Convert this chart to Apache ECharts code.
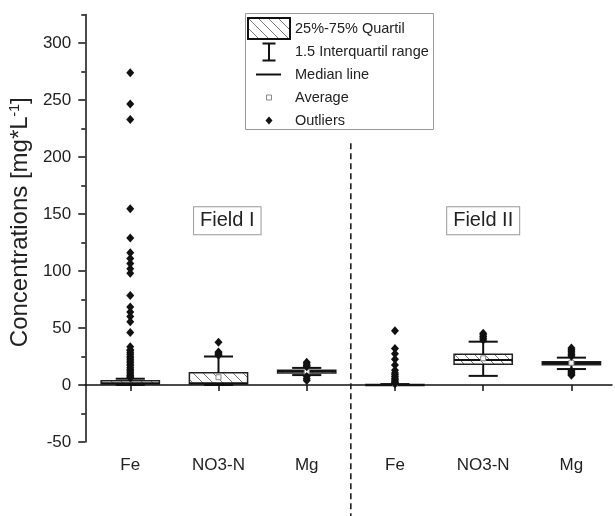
<!DOCTYPE html>
<html><head><meta charset="utf-8">
<script src="https://cdn.jsdelivr.net/npm/echarts@6/dist/echarts.min.js"></script>
<style>html,body{margin:0;padding:0;background:#fff}#c{width:615px;height:516px}</style>
</head><body><div id="c"></div><script>
// ---- data ----
const categories = ['Fe', 'NO3-N', 'Mg', 'Fe', 'NO3-N', 'Mg'];
const positions = [1, 2, 3, 4, 5, 6];
const whiskerLow = [0, 0, 8.7, 0, 8, 14];
const quartile1 = [0.8, 0.8, 10.6, 0, 18.3, 17.8];
const medians = [1.5, 1.5, 12, 0.1, 22, 19.2];
const quartile3 = [3.8, 10.8, 13, 0.4, 27, 20.5];
const whiskerHigh = [5.5, 25, 15, 0.8, 38, 24];
const averages = [9, 6.8, 11.9, 1.5, 23.4, 19.5];
const outliersFe1 = [274, 246.5, 233, 154.5, 129, 116, 111, 106.5, 102, 98, 78.5, 68.5, 64, 60, 55.5, 46,
  33.5, 31, 30, 28.2, 26.9, 25.3, 23.8, 22.6, 21, 19.7, 18.1, 16.9, 15.2, 13.8, 12.5, 11.1, 9.6, 8.4, 7.2, 6.3];
const outliersNO3N1 = [37.5, 29, 28, 27, 26.2];
const outliersMg1 = [20, 18.5, 17, 16, 7.5, 5.5, 4];
const outliersFe2 = [47.5, 32, 27.5, 22.5, 17.5, 13, 10.5, 9, 7.5, 6, 4.5, 3.5, 2.5, 1.8, 1.2];
const outliersNO3N2 = [45.5, 44, 42.5, 41, 39.5];
const outliersMg2 = [32.5, 31, 29.5, 28, 26.5, 25.5, 12.5, 11.5, 10.5, 9.5, 8.5];
const outlierGroups = [outliersFe1, outliersNO3N1, outliersMg1, outliersFe2, outliersNO3N2, outliersMg2];
const yTickLabels = [-50, 0, 50, 100, 150, 200, 250, 300];
const yMinorTicks = [-50, -25, 0, 25, 50, 75, 100, 125, 150, 175, 200, 225, 250, 275, 300, 325];
const fieldNames = ['Field I', 'Field II'];
const fieldX = [2.1, 5.0];
const fieldY = [144, 144];
const divider = [3.5, 212];
const legendNames = ['25%-75% Quartil', '1.5 Interquartil range', 'Median line', 'Average', 'Outliers'];

// ---- styles ----
const FONT = "'Liberation Sans', Arial, sans-serif";
const BOX_HALF = 0.33;
const CAP_HALF = 0.165;
function makeHatch() {
  const c = document.createElement('canvas');
  c.width = 10; c.height = 10;
  const g = c.getContext('2d');
  g.fillStyle = '#fff'; g.fillRect(0, 0, 10, 10);
  g.strokeStyle = '#777'; g.lineWidth = 1;
  g.beginPath();
  g.moveTo(-1, -1); g.lineTo(11, 11);
  g.moveTo(-1, 9); g.lineTo(1, 11);
  g.moveTo(9, -1); g.lineTo(11, 1);
  g.stroke();
  return c;
}
const hatch = { image: makeHatch(), repeat: 'repeat' };

const boxData = positions.map((p, i) => [p, quartile1[i], quartile3[i]]);
const whiskerData = positions.map((p, i) => [p, whiskerLow[i], quartile1[i], quartile3[i], whiskerHigh[i]]);
const medianData = positions.map((p, i) => [p, medians[i]]);
const avgData = positions.map((p, i) => [p, averages[i]]);
const outlierData = [];
outlierGroups.forEach((g, i) => g.forEach(v => outlierData.push([positions[i], v])));
const fieldData = fieldNames.map((n, i) => [fieldX[i], fieldY[i], n]);

const chart = echarts.init(document.getElementById('c'), null, { renderer: 'canvas' });
chart.setOption({
  animation: false,
  textStyle: { fontFamily: FONT },
  grid: { left: 84, right: 3, top: 14.5, bottom: 74 },
  legend: {
    orient: 'vertical', left: 247, top: 17, padding: 0,
    itemWidth: 42, itemHeight: 21, itemGap: 1.5,
    textStyle: { fontSize: 14.5, color: '#222', fontFamily: FONT },
    selectedMode: false,
    data: [
      { name: legendNames[0], icon: 'rect', itemStyle: { color: hatch, borderColor: '#111', borderWidth: 2 } },
      { name: legendNames[1], icon: 'path://M0,0M42,21M14.5,1H27.5V3H22V18H27.5V20H14.5V18H20V3H14.5Z', itemStyle: { color: '#111', borderWidth: 0 } },
      { name: legendNames[2], icon: 'path://M0,0M42,21M8,9.5H33V11.5H8Z', itemStyle: { color: '#111', borderWidth: 0 } },
      { name: legendNames[3], icon: 'path://M0,0M42,21M18.5,8H23.5V13H18.5Z', itemStyle: { color: '#fff', borderColor: '#888', borderWidth: 1 } },
      { name: legendNames[4], icon: 'path://M0,0M42,21M21,6.5L24.5,10.5L21,14.5L17.5,10.5Z', itemStyle: { color: '#111', borderWidth: 0 } }
    ]
  },
  graphic: [{
    type: 'rect', left: 243, top: 11, shape: { width: 188, height: 116 },
    style: { fill: 'none', stroke: '#999', lineWidth: 1 }, silent: true, z: 10
  }],
  xAxis: {
    type: 'value', min: 0.49, max: 6.46,
    axisLine: { show: true, lineStyle: { color: '#111', width: 1.5 } },
    axisTick: { show: true, customValues: positions, length: 6, lineStyle: { color: '#111', width: 1.5 } },
    axisLabel: {
      customValues: positions, margin: 15, fontSize: 17, color: '#222', fontFamily: FONT,
      formatter: v => categories[positions.indexOf(Math.round(v))]
    },
    splitLine: { show: false }
  },
  yAxis: [{
    type: 'value', min: -50, max: 325, interval: 25,
    name: 'Concentrations [mg*L{sup|-1}]', nameLocation: 'middle', nameGap: 46,
    nameTextStyle: {
      fontSize: 24, color: '#222', fontFamily: FONT, padding: [0, 0, 0, 12],
      rich: { sup: { fontSize: 14, verticalAlign: 'top', lineHeight: 14, fontFamily: FONT, color: '#222' } }
    },
    axisLine: { show: true, lineStyle: { color: '#111', width: 1.5 } },
    axisTick: { show: true, customValues: yMinorTicks, length: 4, lineStyle: { color: '#111', width: 1.5 } },
    axisLabel: { customValues: yTickLabels, margin: 14, fontSize: 17, color: '#222', fontFamily: FONT },
    splitLine: { show: false }
  }, {
    type: 'value', min: -50, max: 325, interval: 25, position: 'left',
    axisLine: { show: false },
    axisTick: { show: true, customValues: yTickLabels, length: 7, lineStyle: { color: '#111', width: 1.5 } },
    axisLabel: { show: false },
    splitLine: { show: false }
  }],
  series: [
    {
      name: legendNames[0], type: 'custom', data: boxData, encode: { x: 0, y: [1, 2] }, z: 2,
      renderItem: (params, api) => {
        const x = api.value(0);
        const a = api.coord([x - BOX_HALF, api.value(2)]);
        const b = api.coord([x + BOX_HALF, api.value(1)]);
        return {
          type: 'rect',
          shape: { x: a[0], y: a[1], width: b[0] - a[0], height: Math.max(b[1] - a[1], 1) },
          style: { fill: hatch, stroke: '#222', lineWidth: 1.5 }
        };
      }
    },
    {
      name: legendNames[1], type: 'custom', data: whiskerData, encode: { x: 0, y: [1, 4] }, z: 3,
      renderItem: (params, api) => {
        const x = api.value(0);
        const lo = api.coord([x, api.value(1)]);
        const q1 = api.coord([x, api.value(2)]);
        const q3 = api.coord([x, api.value(3)]);
        const hi = api.coord([x, api.value(4)]);
        const cl = api.coord([x - CAP_HALF, 0])[0];
        const cr = api.coord([x + CAP_HALF, 0])[0];
        const st = { stroke: '#111', lineWidth: 2 };
        return {
          type: 'group', children: [
            { type: 'line', shape: { x1: hi[0], y1: hi[1], x2: q3[0], y2: q3[1] }, style: st },
            { type: 'line', shape: { x1: lo[0], y1: lo[1], x2: q1[0], y2: q1[1] }, style: st },
            { type: 'line', shape: { x1: cl, y1: hi[1], x2: cr, y2: hi[1] }, style: st },
            { type: 'line', shape: { x1: cl, y1: lo[1], x2: cr, y2: lo[1] }, style: st }
          ]
        };
      }
    },
    {
      name: legendNames[2], type: 'custom', data: medianData, encode: { x: 0, y: 1 }, z: 3,
      renderItem: (params, api) => {
        const x = api.value(0);
        const a = api.coord([x - BOX_HALF, api.value(1)]);
        const b = api.coord([x + BOX_HALF, api.value(1)]);
        return { type: 'line', shape: { x1: a[0], y1: a[1], x2: b[0], y2: b[1] }, style: { stroke: '#111', lineWidth: 2 } };
      }
    },
    {
      name: legendNames[3], type: 'scatter', data: avgData, symbol: 'rect', symbolSize: 5, z: 4,
      itemStyle: { color: '#fff', borderColor: '#888', borderWidth: 1, opacity: 1 }
    },
    {
      name: legendNames[4], type: 'scatter', data: outlierData, symbol: 'diamond', symbolSize: [8, 9], z: 5,
      itemStyle: { color: '#111', opacity: 1 }
    },
    {
      type: 'custom', data: fieldData, encode: { x: 0, y: 1 }, z: 6, silent: true,
      renderItem: (params, api) => {
        const p = api.coord([api.value(0), api.value(1)]);
        return {
          type: 'text', x: p[0], y: p[1],
          style: {
            text: fieldData[params.dataIndex][2], fontSize: 20, fontFamily: FONT, fill: '#222',
            align: 'center', verticalAlign: 'middle',
            backgroundColor: '#fff', borderColor: '#999', borderWidth: 1, padding: [4, 6, 3, 6]
          }
        };
      }
    },
    {
      type: 'custom', data: [divider], encode: { x: 0, y: 1 }, z: 6, silent: true, clip: false,
      renderItem: (params, api) => {
        const p = api.coord([api.value(0), api.value(1)]);
        return {
          type: 'line', shape: { x1: p[0], y1: p[1], x2: p[0], y2: api.getHeight() },
          style: { stroke: '#111', lineWidth: 1.5, lineDash: [6, 4] }
        };
      }
    }
  ]
});
</script></body></html>
